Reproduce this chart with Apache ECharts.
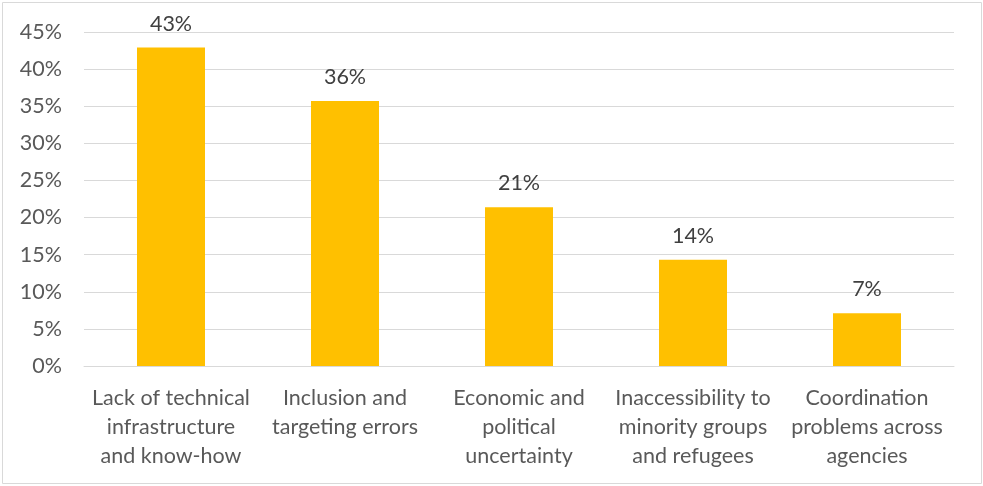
<!DOCTYPE html>
<html><head><meta charset="utf-8">
<script src="https://cdn.jsdelivr.net/npm/echarts@6/dist/echarts.min.js"></script>
<style>html,body{margin:0;padding:0;background:#fff}#c{width:983px;height:486px}</style>
</head><body><div id="c"></div>
<script>
const categories = ["Lack of technical\ninfrastructure\nand know-how","Inclusion and\ntargeting errors","Economic and\npolitical\nuncertainty","Inaccessibility to\nminority groups\nand refugees","Coordination\nproblems across\nagencies"];
const values = [42.9, 35.7, 21.4, 14.3, 7.1];
const chart = echarts.init(document.getElementById('c'));
const font = 'Lato, "Open Sans", sans-serif';
chart.setOption({
  animation:false,
  graphic:[{type:'rect',shape:{x:2.5,y:2.5,width:979,height:481},style:{fill:'none',stroke:'#d9d9d9',lineWidth:1}}],
  grid:{left:84,right:29,top:32,bottom:120},
  xAxis:{type:'category',data:categories,axisTick:{show:false},axisLine:{lineStyle:{color:'#d9d9d9',width:1}},
    axisLabel:{color:'#595959',fontSize:21.5,fontFamily:font,lineHeight:29,margin:18,interval:0}},
  yAxis:{type:'value',min:0,max:45,interval:5,axisLine:{show:false},axisTick:{show:false},
    splitLine:{lineStyle:{color:'#d9d9d9',width:1}},
    axisLabel:{color:'#595959',fontSize:21.5,fontFamily:font,margin:22,formatter:v=>v+'%'}},
  series:[{type:'bar',data:values,barWidth:68,itemStyle:{color:'#ffc000'},
    label:{show:true,position:'top',distance:13,color:'#404040',fontSize:21.5,fontFamily:font,formatter:p=>Math.round(p.value)+'%'}}]
});
</script></body></html>
